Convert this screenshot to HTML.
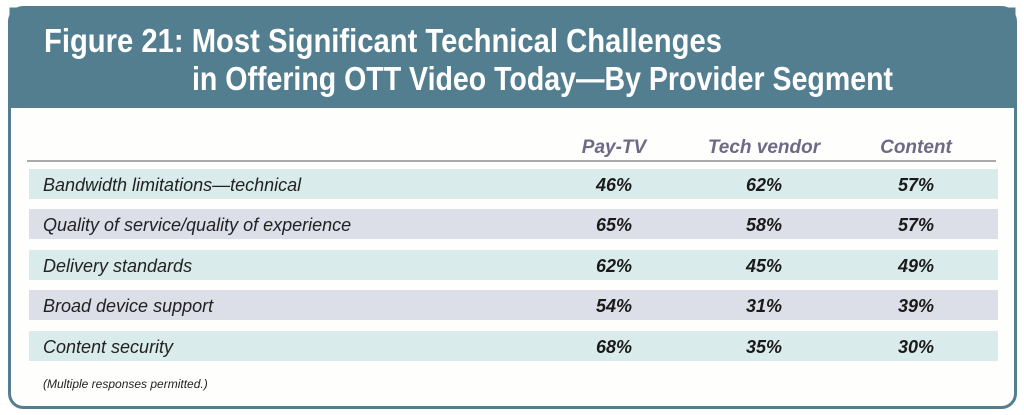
<!DOCTYPE html>
<html><head><meta charset="utf-8">
<style>
html,body{margin:0;padding:0;background:#fff;}
svg{display:block;}
</style></head>
<body>
<svg id="fig" width="1024" height="415" viewBox="0 0 1024 415" xmlns="http://www.w3.org/2000/svg" font-family="Liberation Sans, sans-serif">
  <rect x="9.5" y="7.5" width="1006" height="400" rx="14" fill="#fefefc" stroke="#527e90" stroke-width="3"/>
  <path d="M9.5 7.5 H1015.5 V108 H9.5 Z" fill="#527e90"/>
  <text x="44" y="52" font-size="33" font-weight="bold" fill="#fff" textLength="678" lengthAdjust="spacingAndGlyphs">Figure 21:  Most Significant Technical Challenges</text>
  <text x="192" y="90" font-size="33" font-weight="bold" fill="#fff" textLength="701" lengthAdjust="spacingAndGlyphs">in Offering OTT Video Today—By Provider Segment</text>
  <g id="hdr"></g>
  <line x1="27" y1="161" x2="996" y2="161" stroke="#555" stroke-width="1"/>
  <g id="rows"></g>
  <text x="43" y="388" font-size="12" font-style="italic" fill="#222">(Multiple responses permitted.)</text>
</svg>
<script>
const columns = ["Pay-TV", "Tech vendor", "Content"];
const categories = ["Bandwidth limitations—technical", "Quality of service/quality of experience", "Delivery standards", "Broad device support", "Content security"];
const payTV = [46, 65, 62, 54, 68];
const techVendor = [62, 58, 45, 31, 35];
const content = [57, 57, 49, 39, 30];

const NS = "http://www.w3.org/2000/svg";
const colX = [614, 764, 916];
const rowTop = [169, 209, 250, 290, 331];
const rowH = 30;
const colors = ["#d9ebea", "#dcdee8"];
function mk(tag, attrs, parent, txt){
  const e = document.createElementNS(NS, tag);
  for (const k in attrs) e.setAttribute(k, attrs[k]);
  if (txt !== undefined) e.textContent = txt;
  parent.appendChild(e);
  return e;
}
const hdr = document.getElementById('hdr');
columns.forEach((c, i) => {
  const t = mk('text', {x: colX[i], y: 153, 'text-anchor': 'middle', 'font-size': 19, 'font-weight': 'bold', 'font-style': 'italic', fill: '#6e6a86'}, hdr, c);
  
  
});
const rows = document.getElementById('rows');
const series = [payTV, techVendor, content];
categories.forEach((cat, r) => {
  const g = mk('g', {}, rows);
  
  
  const bg = mk('rect', {x: 29, y: rowTop[r], width: 969, height: rowH, fill: colors[r % 2]}, g);
  
  
  const lab = mk('text', {x: 43, y: rowTop[r] + 22, 'font-size': 18, 'font-style': 'italic', fill: '#222'}, g, cat);
  
  
  series.forEach((s, c) => {
    const v = mk('text', {x: colX[c], y: rowTop[r] + 22, 'text-anchor': 'middle', 'font-size': 18, 'font-weight': 'bold', 'font-style': 'italic', fill: '#1a1a1a'}, g, s[r] + '%');
    
    
  });
});
</script>
</body></html>
